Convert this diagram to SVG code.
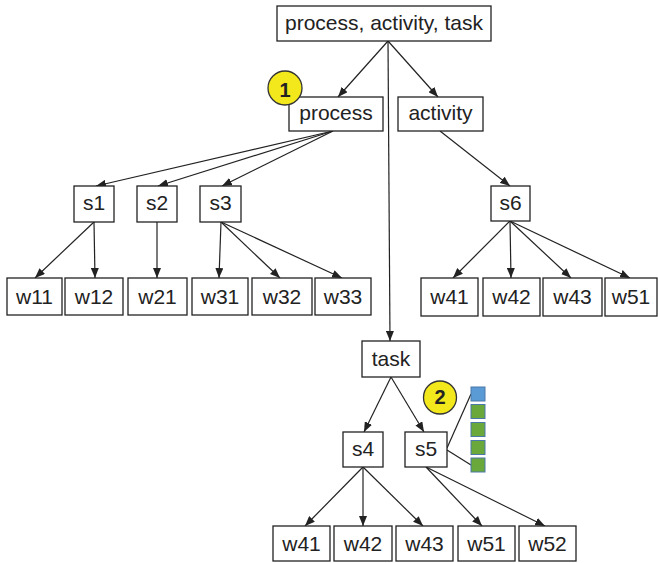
<svg xmlns="http://www.w3.org/2000/svg" width="658" height="563" viewBox="0 0 658 563">
  <style>
    .box { fill: #ffffff; stroke: #222222; stroke-width: 1.3; }
    .lbl { font-family: "Liberation Sans", Arial, sans-serif; font-size: 21px; fill: #222222; text-anchor: middle; }
    .edge { stroke: #222222; stroke-width: 1.2; fill: none; }
    .arrow { marker-end: url(#head); }
    .badge { fill: #f2e81c; stroke: #333333; stroke-width: 1.3; }
    .badge-txt { font-family: "Liberation Sans", Arial, sans-serif; font-size: 20px; font-weight: bold; fill: #222222; text-anchor: middle; }
    .sq-blue { fill: #5b9bd5; stroke: #4a78a8; stroke-width: 1; }
    .sq-green { fill: #6aa83c; stroke: #4a78a8; stroke-width: 1; }
  </style>
  <defs>
    <marker id="head" markerUnits="userSpaceOnUse" markerWidth="10" markerHeight="8" refX="10" refY="4" orient="auto">
      <path d="M0,0 L10,4 L0,8 z" fill="#222222"/>
    </marker>
  </defs>

  <!-- connectors -->
  <g id="connectors">
    <line class="edge arrow" x1="388" y1="41" x2="338" y2="97"/>
    <line class="edge arrow" x1="388" y1="41" x2="438" y2="97"/>
    <line class="edge arrow" x1="388" y1="41" x2="390" y2="341"/>
    <line class="edge arrow" x1="333" y1="131" x2="96" y2="186"/>
    <line class="edge arrow" x1="333" y1="131" x2="158" y2="186"/>
    <line class="edge arrow" x1="333" y1="131" x2="222" y2="186"/>
    <line class="edge arrow" x1="440" y1="131" x2="510" y2="186"/>
    <line class="edge arrow" x1="94" y1="222" x2="35" y2="278"/>
    <line class="edge arrow" x1="94" y1="222" x2="95" y2="278"/>
    <line class="edge arrow" x1="157" y1="222" x2="157" y2="278"/>
    <line class="edge arrow" x1="221" y1="222" x2="219" y2="278"/>
    <line class="edge arrow" x1="221" y1="222" x2="280" y2="278"/>
    <line class="edge arrow" x1="221" y1="222" x2="342" y2="278"/>
    <line class="edge arrow" x1="510" y1="221" x2="453" y2="278"/>
    <line class="edge arrow" x1="510" y1="221" x2="511" y2="278"/>
    <line class="edge arrow" x1="510" y1="221" x2="571" y2="278"/>
    <line class="edge arrow" x1="510" y1="221" x2="630" y2="278"/>
    <line class="edge arrow" x1="391" y1="377" x2="364" y2="432"/>
    <line class="edge arrow" x1="391" y1="377" x2="424" y2="432"/>
    <line class="edge arrow" x1="363" y1="467" x2="305" y2="526"/>
    <line class="edge arrow" x1="363" y1="467" x2="363" y2="526"/>
    <line class="edge arrow" x1="363" y1="467" x2="423" y2="526"/>
    <line class="edge arrow" x1="426" y1="467" x2="482" y2="526"/>
    <line class="edge arrow" x1="426" y1="467" x2="545" y2="526"/>
    <line class="edge" x1="447" y1="448" x2="471" y2="394"/>
    <line class="edge" x1="447" y1="450" x2="471" y2="465"/>
  </g>

  <!-- top level -->
  <g id="root">
    <rect class="box" x="277" y="6" width="214" height="35"/>
    <text class="lbl" x="384" y="30">process, activity, task</text>
  </g>
  <g id="process">
    <rect class="box" x="289" y="97" width="94" height="34"/>
    <text class="lbl" x="336" y="120">process</text>
  </g>
  <g id="activity">
    <rect class="box" x="398" y="97" width="85" height="34"/>
    <text class="lbl" x="440.5" y="120">activity</text>
  </g>
  <g id="task">
    <rect class="box" x="362" y="341" width="58" height="36"/>
    <text class="lbl" x="391" y="366">task</text>
  </g>

  <!-- s-level -->
  <g id="s1"><rect class="box" x="74" y="186" width="40" height="36"/><text class="lbl" x="94" y="210">s1</text></g>
  <g id="s2"><rect class="box" x="137" y="186" width="40" height="36"/><text class="lbl" x="157" y="210">s2</text></g>
  <g id="s3"><rect class="box" x="200" y="186" width="41" height="36"/><text class="lbl" x="220.5" y="210">s3</text></g>
  <g id="s6"><rect class="box" x="491" y="186" width="39" height="35"/><text class="lbl" x="510.5" y="210">s6</text></g>
  <g id="s4"><rect class="box" x="343" y="432" width="40" height="35"/><text class="lbl" x="363" y="456">s4</text></g>
  <g id="s5"><rect class="box" x="405" y="432" width="42" height="35"/><text class="lbl" x="426" y="456">s5</text></g>

  <!-- w-level, left -->
  <g id="w11"><rect class="box" x="7" y="278" width="55" height="37"/><text class="lbl" x="34.5" y="304">w11</text></g>
  <g id="w12"><rect class="box" x="65" y="278" width="58" height="37"/><text class="lbl" x="94" y="304">w12</text></g>
  <g id="w21"><rect class="box" x="128" y="278" width="59" height="37"/><text class="lbl" x="157.5" y="304">w21</text></g>
  <g id="w31"><rect class="box" x="192" y="278" width="56" height="37"/><text class="lbl" x="220" y="304">w31</text></g>
  <g id="w32"><rect class="box" x="252" y="278" width="60" height="37"/><text class="lbl" x="282" y="304">w32</text></g>
  <g id="w33"><rect class="box" x="315" y="278" width="56" height="37"/><text class="lbl" x="343" y="304">w33</text></g>

  <!-- w-level, right -->
  <g id="w41a"><rect class="box" x="421" y="278" width="57" height="38"/><text class="lbl" x="449.5" y="304">w41</text></g>
  <g id="w42a"><rect class="box" x="483" y="278" width="57" height="38"/><text class="lbl" x="511.5" y="304">w42</text></g>
  <g id="w43a"><rect class="box" x="543" y="278" width="59" height="38"/><text class="lbl" x="572.5" y="304">w43</text></g>
  <g id="w51a"><rect class="box" x="605" y="278" width="52" height="38"/><text class="lbl" x="631" y="304">w51</text></g>

  <!-- w-level, bottom -->
  <g id="w41b"><rect class="box" x="273" y="526" width="57" height="35"/><text class="lbl" x="301.5" y="551">w41</text></g>
  <g id="w42b"><rect class="box" x="334" y="526" width="58" height="35"/><text class="lbl" x="363" y="551">w42</text></g>
  <g id="w43b"><rect class="box" x="396" y="526" width="57" height="35"/><text class="lbl" x="424.5" y="551">w43</text></g>
  <g id="w51b"><rect class="box" x="458" y="526" width="57" height="35"/><text class="lbl" x="486.5" y="551">w51</text></g>
  <g id="w52b"><rect class="box" x="519" y="526" width="57" height="35"/><text class="lbl" x="547.5" y="551">w52</text></g>

  <!-- numbered badges -->
  <g id="badge1">
    <circle class="badge" cx="285" cy="88" r="17"/>
    <text class="badge-txt" x="285" y="97">1</text>
  </g>
  <g id="badge2">
    <circle class="badge" cx="440" cy="397.5" r="16.5"/>
    <text class="badge-txt" x="440" y="404">2</text>
  </g>

  <!-- stack of small squares beside s5 -->
  <g id="stack">
    <rect class="sq-blue" x="471" y="387" width="14" height="14"/>
    <rect class="sq-green" x="471" y="404.5" width="14" height="14"/>
    <rect class="sq-green" x="471" y="422.5" width="14" height="14"/>
    <rect class="sq-green" x="471" y="440.5" width="14" height="14"/>
    <rect class="sq-green" x="471" y="458" width="14" height="14"/>
  </g>
</svg>
